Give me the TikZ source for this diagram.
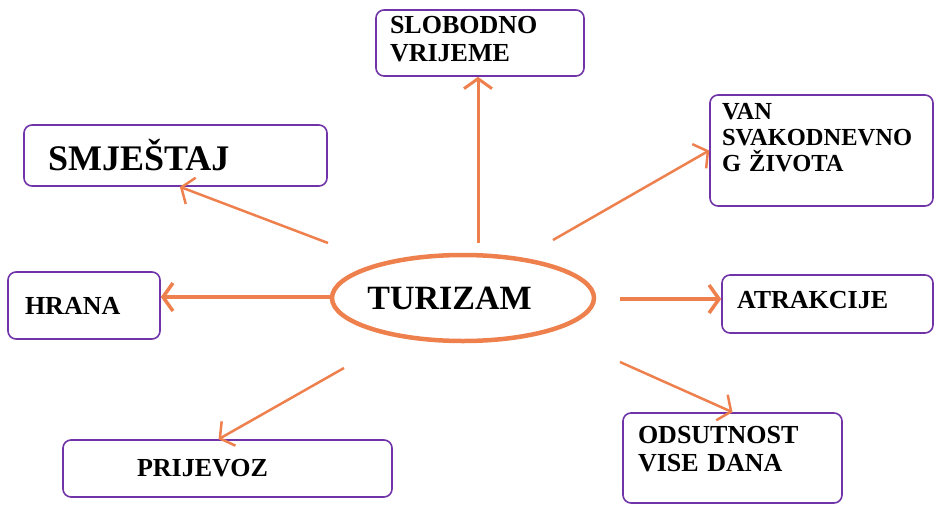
\documentclass[tikz,border=0pt]{standalone}
\usepackage{fontspec}
\setmainfont{Liberation Serif}
\usepackage{tikz}
\usetikzlibrary{shapes.geometric,arrows.meta,positioning}
\definecolor{boxpurple}{RGB}{112,52,168}
\definecolor{turorange}{RGB}{238,128,78}

\begin{document}
\begin{tikzpicture}[x=1pt,y=-1pt]
	\tikzset{box/.style={draw=boxpurple,line width=1.6pt,rounded corners=8pt,align=left,inner ysep=0pt,font=\bfseries\fontsize{26}{28}\selectfont},
		arr/.style={draw=turorange,line width=3pt,-{Straight Barb[length=10pt,width=28pt]}}}
	\useasboundingbox (0,0) rectangle (936,506);
	\node[ellipse,draw=turorange,line width=4.5pt,minimum width=262,minimum height=86,inner xsep=-10pt,inner ysep=0pt,font=\bfseries\fontsize{34}{36}\selectfont] (tur) at (463,298) {TURIZAM\kern27pt};
	\node[box,minimum width=208,minimum height=66,inner xsep=14pt,text width=180] (slob) at (480,43) {SLOBODNO\\VRIJEME\\[-20pt]\mbox{}};
	\node[box,minimum width=303,minimum height=61,inner xsep=24pt,text width=255,font=\bfseries\fontsize{36}{38}\selectfont] (smj) at (175.5,155.5) {SMJEŠTAJ};
	\node[box,minimum width=223,minimum height=111,inner xsep=12pt,text width=199,font=\bfseries\fontsize{24.5}{26}\selectfont] (van) at (821.5,150.5) {VAN\\SVAKODNEVNO\\G ŽIVOTA\\\mbox{}};
	\node[box,minimum width=152,minimum height=67,inner xsep=17pt,text width=118] (hrana) at (84,305.5) {HRANA};
	\node[box,minimum width=211,minimum height=58,inner xsep=15pt,text width=181] (atr) at (827.5,304) {ATRAKCIJE\\[-20pt]\mbox{}};
	\node[box,minimum width=219,minimum height=90,inner xsep=15pt,text width=189] (ods) at (732.5,458) {ODSUTNOST\\VISE DANA\\[-10pt]\mbox{}};
	\node[box,minimum width=329,minimum height=57,inner xsep=74pt,text width=181] (prij) at (227.5,468.5) {PRIJEVOZ};
	\coordinate (s1) at (478,243);
	\coordinate (m1) at (328,243);
	\coordinate (v1) at (553,240);
	\coordinate (h1) at (330,297);
	\coordinate (a1) at (620,299);
	\coordinate (o1) at (620,362);
	\coordinate (p1) at (344,368);
	\draw[arr] (s1) -- (s1 |- slob.south);
	\draw[arr,line width=2.5pt] (m1) -- (smj.-82);
	\draw[arr,line width=2.5pt] (v1) -- (van.west);
	\draw[arr,line width=3.5pt] (h1) -- (h1 -| hrana.east);
	\draw[arr,line width=3.5pt] (a1) -- (a1 -| atr.west);
	\draw[arr,line width=2.5pt] (o1) -- (ods.north);
	\draw[arr,line width=2.5pt] (p1) -- (prij.107);
\end{tikzpicture}
\end{document}
